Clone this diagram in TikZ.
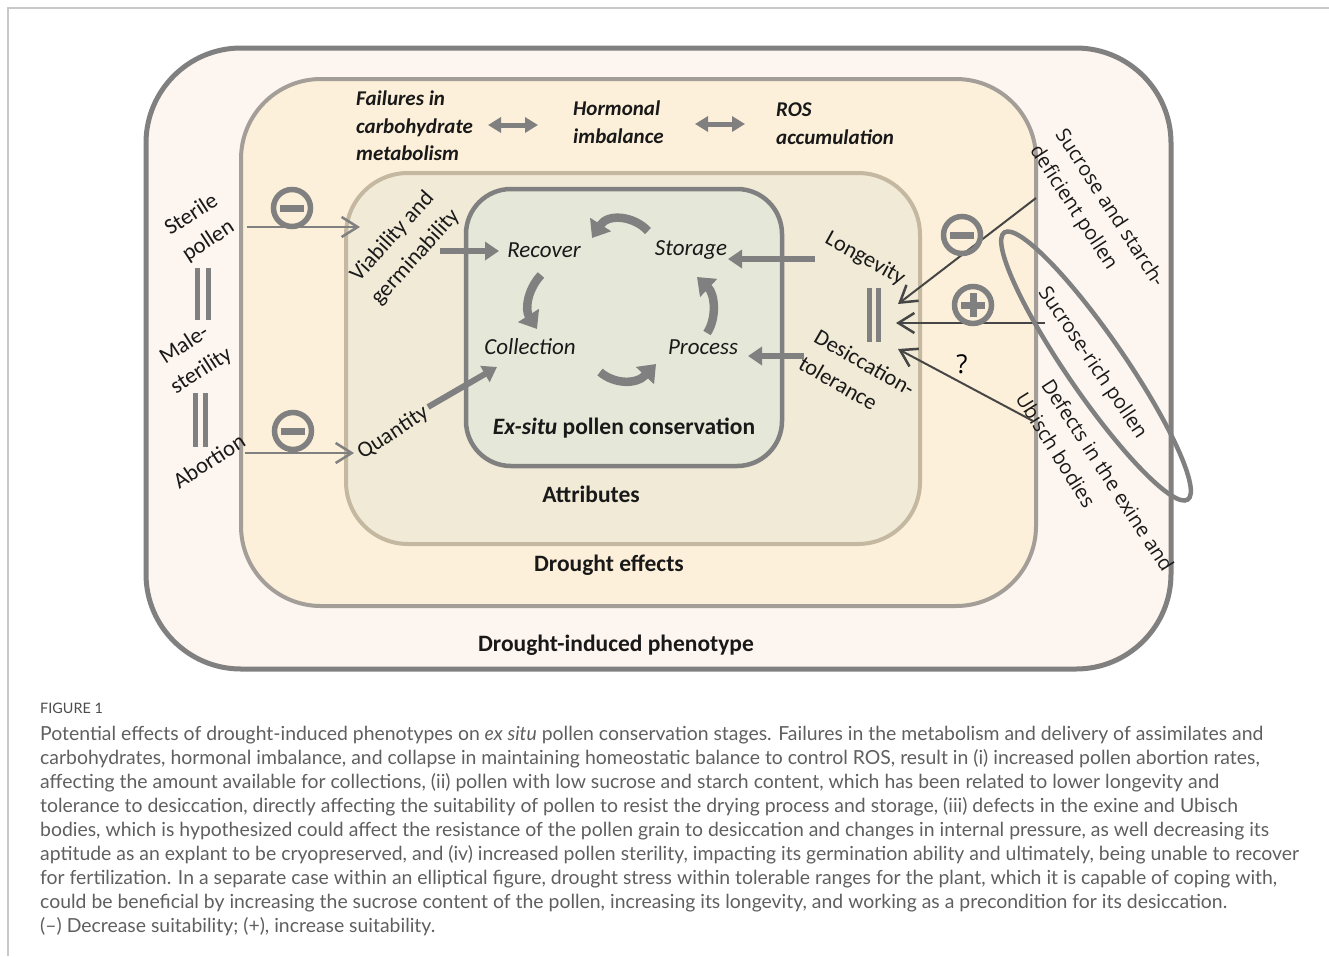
\documentclass[tikz,border=0pt]{standalone}
\usepackage{fontspec}
\setmainfont{Carlito}
\newfontfamily\sidefont{Open Sans}
\newfontfamily\capfont{Lato}
\usepackage{tikz}
\usetikzlibrary{positioning,arrows.meta}

\definecolor{phenofill}{RGB}{253,245,239}
\definecolor{phenoline}{RGB}{128,128,128}
\definecolor{effectfill}{RGB}{253,240,218}
\definecolor{effectline}{RGB}{164,158,152}
\definecolor{attrfill}{RGB}{241,234,215}
\definecolor{attrline}{RGB}{196,184,160}
\definecolor{exfill}{RGB}{229,232,216}
\definecolor{arrowgray}{RGB}{128,128,128}
\definecolor{thingray}{RGB}{70,70,70}
\definecolor{captext}{RGB}{95,95,95}
\definecolor{frameline}{RGB}{200,200,200}

\begin{document}
\begin{tikzpicture}[x=1pt,y=-1pt,
  lbl/.style={font=\fontsize{22.5}{31}\selectfont, inner sep=0pt, text=black!90},
  stage/.style={font=\fontsize{23}{26}\selectfont\itshape, inner sep=0pt, text=black!90},
  title/.style={font=\fontsize{23.5}{26}\selectfont\bfseries, inner sep=0pt, text=black!90},
  cause/.style={font=\fontsize{21}{27.5}\selectfont\bfseries\itshape, align=left, inner sep=0pt, anchor=north west, text=black!90},
  rside/.style={font=\sidefont\fontsize{20}{22}\selectfont, inner sep=0pt, text=black!90},
  flow/.style={draw=arrowgray, line width=6pt, -{Triangle[width=18pt,length=14pt]}},
  cyc/.style={draw=arrowgray, line width=8.5pt, -{Triangle[width=24pt,length=16pt]}},
  both/.style={draw=arrowgray, line width=5pt, {Triangle[width=15pt,length=13pt]}-{Triangle[width=15pt,length=13pt]}},
  infl/.style={draw=thingray, line width=2pt, -{Straight Barb[length=16pt,width=20pt,line width=2.5pt]}},
  bars/.style={draw=arrowgray, line width=5pt},
  minus/.style={circle, draw=arrowgray, line width=5.5pt, minimum size=37pt, inner sep=0pt,
    path picture={\draw[arrowgray, line width=7pt] ([xshift=-12pt]path picture bounding box.center) -- ([xshift=12pt]path picture bounding box.center);}},
  plus/.style={minus, path picture={\draw[arrowgray, line width=7pt]
    ([xshift=-12pt]path picture bounding box.center) -- ([xshift=12pt]path picture bounding box.center)
    ([yshift=-12pt]path picture bounding box.center) -- ([yshift=12pt]path picture bounding box.center);}}]
  \useasboundingbox (0,0) rectangle (1329,956);
  \draw[frameline, line width=2pt] (1329,8) -- (8,8) -- (8,956);

  % nested boxes
  \draw[fill=phenofill, draw=phenoline, line width=5pt, rounded corners=95pt] (146,48) rectangle (1171,669);
  \draw[fill=effectfill, draw=effectline, line width=4pt, rounded corners=80pt] (241,79) rectangle (1036,606);
  \draw[fill=attrfill, draw=attrline, line width=4pt, rounded corners=62pt] (346,173) rectangle (920,544);
  \draw[fill=exfill, draw=phenoline, line width=4.5pt, rounded corners=45pt] (466,189) rectangle (782,466);

  \node[title] (pheno)   at (616,645) {Drought-induced phenotype};
  \node[title] (effects) at (609,565) {Drought effects};
  \node[title] (attr)    at (591,494) {Attributes};
  \node[title] (exsitu)  at (624,428) {\itshape Ex-situ\upshape{} pollen conservation};

  % drought causes
  \node[cause] (carb) at (356,91)  {Failures in\\carbohydrate\\metabolism};
  \node[cause] (horm) at (573,101) {Hormonal\\imbalance};
  \node[cause] (ros)  at (776,103) {ROS\\accumulation};
  \coordinate (h_1) at (488,125);
  \coordinate (h_2) at (538,125);
  \coordinate (h_3) at (695,124);
  \coordinate (h_4) at (745,124);
  \draw[both] (h_1) -- (h_2);
  \draw[both] (h_3) -- (h_4);

  % conservation cycle
  \node[stage] (rec) at (544,250) {Recover};
  \node[stage] (sto) at (691,250) {Storage};
  \node[stage] (col) at (530,347) {Collection};
  \node[stage] (pro) at (703,347) {Process};
  \draw[cyc] (648,231) .. controls (634,216) and (608,213) .. (592,238);
  \draw[cyc] (541,275) .. controls (527,290) and (525,310) .. (537,329);
  \draw[cyc] (600,372) .. controls (614,384) and (636,385) .. (656,364);
  \draw[cyc] (707,333) .. controls (717,318) and (715,294) .. (697,277);

  % attributes
  \node[lbl, rotate=48, align=center] (via) at (404,247) {Viability and\\germinability};
  \node[lbl, rotate=33] (qua) at (393,433) {Quantity};
  \node[lbl, rotate=-29] (lon) at (865,259) {Longevity};
  \node[lbl, rotate=-30, align=left] (des) at (857,376) {Desiccation-\\tolerance};
  \coordinate (v_1) at (440,251);
  \coordinate (v_2) at (499,251);
  \coordinate (q_1) at (428,407);
  \coordinate (q_2) at (497,367);
  \coordinate (l_1) at (815,259);
  \coordinate (l_2) at (728,259);
  \coordinate (d_1) at (804,356);
  \coordinate (d_2) at (748,356);
  \draw[flow] (v_1) -- (v_2);
  \draw[flow] (q_1) -- (q_2);
  \draw[flow] (l_1) -- (l_2);
  \draw[flow] (d_1) -- (d_2);
  \draw[bars] (869,288) -- (869,342) (878,288) -- (878,342);

  % phenotypes left
  \node[lbl, rotate=33, align=center] (ste) at (200,228) {Sterile\\pollen};
  \node[lbl, rotate=33, align=center] (mal) at (193,358) {Male-\\sterility};
  \node[lbl, rotate=33] (abo) at (209,461) {Abortion};
  \draw[bars] (197,268) -- (197,320) (208,268) -- (208,320);
  \draw[bars] (195,393) -- (195,447) (205,393) -- (205,447);
  \coordinate (s_1) at (247,227);
  \coordinate (s_2) at (360,227);
  \coordinate (a_1) at (245,453);
  \coordinate (a_2) at (354,453);
  \draw[infl, draw=arrowgray, line width=2.5pt] (s_1) -- (s_2);
  \draw[infl, draw=arrowgray, line width=2.5pt] (a_1) -- (a_2);
  \node[minus] (m_1) at (292,208) {};
  \node[minus] (m_2) at (293,431) {};

  % phenotypes right
  \node[rside, rotate=-57] (suc1) at (1111,207) {Sucrose and starch-};
  \node[rside, rotate=-57] (suc2) at (1073,208) {deficient pollen};
  \node[rside, rotate=-56] (ric)  at (1092,363) {Sucrose-rich pollen};
  \node[rside, rotate=-57] (def1) at (1108,475) {Defects in the exine and};
  \node[rside, rotate=-58] (def2) at (1056,450) {Ubisch bodies};
  \coordinate (r_1) at (1036,198);
  \coordinate (r_2) at (1045,323);
  \coordinate (r_3) at (1033,421);
  \coordinate (e_1) at (898,304);
  \coordinate (e_2) at (896,323);
  \coordinate (e_3) at (898,349);
  \draw[infl] (r_1) -- (e_1);
  \draw[infl] (r_2) -- (e_2);
  \draw[infl] (r_3) -- (e_3);
  \node[minus] (m_3) at (962,235) {};
  \node[plus]  (p_1) at (973,305) {};
  \node[font=\sidefont\fontsize{26}{26}\selectfont, inner sep=0pt] (unk) at (962,364) {?};
  \draw[phenoline, line width=4.5pt, rotate around={-55.5:(1096,366)}] (1096,366) ellipse [x radius=162pt, y radius=29pt];

  % caption
  \node[font=\capfont\fontsize{14.4}{16}\selectfont, text=black!70, anchor=west, inner sep=0pt] (fig) at (40,708) {FIGURE 1};
  \node[font=\capfont\fontsize{19.4}{24}\selectfont, text=captext, anchor=north west, align=left, inner sep=0pt] (cap) at (40,726) {%
    Potential effects of drought-induced phenotypes on \textit{ex situ} pollen conservation stages. Failures in the metabolism and delivery of assimilates and\\
    carbohydrates, hormonal imbalance, and collapse in maintaining homeostatic balance to control ROS, result in (i) increased pollen abortion rates,\\
    affecting the amount available for collections, (ii) pollen with low sucrose and starch content, which has been related to lower longevity and\\
    tolerance to desiccation, directly affecting the suitability of pollen to resist the drying process and storage, (iii) defects in the exine and Ubisch\\
    bodies, which is hypothesized could affect the resistance of the pollen grain to desiccation and changes in internal pressure, as well decreasing its\\
    aptitude as an explant to be cryopreserved, and (iv) increased pollen sterility, impacting its germination ability and ultimately, being unable to recover\\
    for fertilization. In a separate case within an elliptical figure, drought stress within tolerable ranges for the plant, which it is capable of coping with,\\
    could be beneficial by increasing the sucrose content of the pollen, increasing its longevity, and working as a precondition for its desiccation.\\
    (–) Decrease suitability; (+), increase suitability.};
\end{tikzpicture}
\end{document}
